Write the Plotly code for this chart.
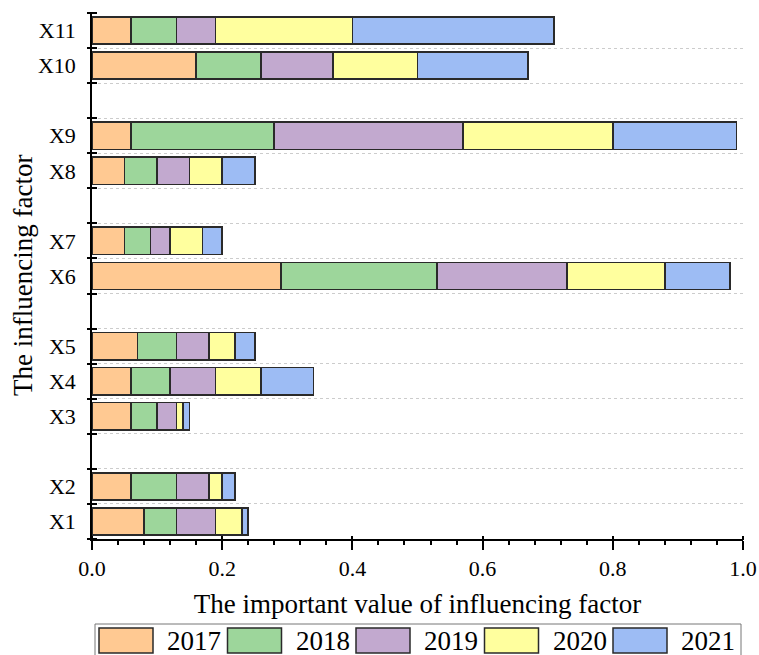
import plotly.graph_objects as go

factors = ["X1", "X2", "X3", "X4", "X5", "X6", "X7", "X8", "X9", "X10", "X11"]
years = ["2017", "2018", "2019", "2020", "2021"]
v2017 = [0.08, 0.06, 0.06, 0.06, 0.07, 0.29, 0.05, 0.05, 0.06, 0.16, 0.06]
v2018 = [0.05, 0.07, 0.04, 0.06, 0.06, 0.24, 0.04, 0.05, 0.22, 0.10, 0.07]
v2019 = [0.06, 0.05, 0.03, 0.07, 0.05, 0.20, 0.03, 0.05, 0.29, 0.11, 0.06]
v2020 = [0.04, 0.02, 0.01, 0.07, 0.04, 0.15, 0.05, 0.05, 0.23, 0.13, 0.21]
v2021 = [0.01, 0.02, 0.01, 0.08, 0.03, 0.10, 0.03, 0.05, 0.19, 0.17, 0.31]
# row order from bottom to top; "" marks an empty spacer row
row_layout = ["X1", "X2", "", "X3", "X4", "X5", "", "X6", "X7", "", "X8", "X9", "", "X10", "X11"]

series = [v2017, v2018, v2019, v2020, v2021]
colors = ["#FFC992", "#9DD69B", "#C2A9CF", "#FFFF9E", "#9DBCF4"]
FONT = "Liberation Serif"

ypos = [row_layout.index(f) for f in factors]
nrows = len(row_layout)
bounds = [i - 0.5 for i in range(nrows + 1)]

fig = go.Figure()
for name, vals, col in zip(years, series, colors):
    fig.add_trace(go.Bar(
        x=vals, y=ypos, orientation="h", name=name, width=0.78,
        marker=dict(color=col, line=dict(color="#2a2a2a", width=1.6)),
        showlegend=False,
    ))
# empty helper trace to activate overlay axes (tick marks only)
fig.add_trace(go.Scatter(x=[None], y=[None], xaxis="x2", yaxis="y2",
                         showlegend=False, hoverinfo="skip"))

# plot area geometry in pixels (for legend placement)
L, R, T, B = 92, 16, 13, 116
W, H = 759, 655
pw, ph = W - L - R, H - T - B
def px(xp):
    return (xp - L) / pw
def py(yp):
    return (H - B - yp) / ph

fig.update_layout(
    width=W, height=H, barmode="stack",
    margin=dict(l=L, r=R, t=T, b=B),
    plot_bgcolor="white", paper_bgcolor="white",
    font=dict(family=FONT, color="black"),
    xaxis=dict(
        range=[0, 1], tickmode="linear", tick0=0, dtick=0.2, tickformat=".1f",
        ticks="outside", ticklen=9, tickwidth=1.5, tickcolor="black",
        showline=True, linecolor="black", linewidth=1.5,
        showgrid=False, zeroline=False,
        tickfont=dict(family=FONT, size=22),
        minor=dict(tick0=0, dtick=0.04, ticks="outside", ticklen=4,
                   tickwidth=1.5, tickcolor="black"),
        title=dict(text="The important value of influencing factor",
                   font=dict(family=FONT, size=27), standoff=14),
        automargin=False,
    ),
    yaxis=dict(
        range=[-0.5, nrows - 0.5], tickmode="array", tickvals=ypos, ticktext=factors,
        ticks="", showline=True, linecolor="black", linewidth=1.5,
        showgrid=False, zeroline=False, ticklabelstandoff=10,
        tickfont=dict(family=FONT, size=22),
        minor=dict(tickmode="array", tickvals=bounds[1:-1], ticks="",
                   showgrid=True, gridcolor="#cccccc", griddash="dot", gridwidth=1),
        automargin=False,
    ),
    xaxis2=dict(
        overlaying="x", anchor="free", position=4 / ph, side="bottom",
        range=[0, 1], tickmode="linear", tick0=0, dtick=0.2,
        ticks="outside", ticklen=4, tickwidth=1.5, tickcolor="black",
        showticklabels=False, showline=False, showgrid=False, zeroline=False,
    ),
    yaxis2=dict(
        overlaying="y", anchor="free", position=5 / pw, side="left",
        range=[-0.5, nrows - 0.5], tickmode="array", tickvals=bounds,
        ticks="outside", ticklen=10, tickwidth=1.5, tickcolor="black",
        showticklabels=False, showline=False, showgrid=False, zeroline=False,
    ),
)

# y-axis title
annotations = [dict(xref="paper", yref="paper", x=px(23), y=py(276),
                    xanchor="center", yanchor="middle", textangle=-90,
                    text="The influencing factor", showarrow=False,
                    font=dict(family=FONT, size=27, color="black"))]

# custom legend with wide swatches
shapes = [dict(type="rect", xref="paper", yref="paper",
               x0=px(95), x1=px(741), y0=py(624), y1=py(664),
               line=dict(color="#777777", width=1), fillcolor="rgba(0,0,0,0)")]
for i, (name, col) in enumerate(zip(years, colors)):
    sx0 = 99 + 128.5 * i
    sx1 = sx0 + 54
    shapes.append(dict(type="rect", xref="paper", yref="paper",
                       x0=px(sx0), x1=px(sx1), y0=py(653), y1=py(628),
                       line=dict(color="#2a2a2a", width=1.5), fillcolor=col))
    annotations.append(dict(xref="paper", yref="paper", x=px(sx1 + 12), y=py(641),
                            xanchor="left", yanchor="middle", text=name, showarrow=False,
                            font=dict(family=FONT, size=27, color="black")))
fig.update_layout(shapes=shapes, annotations=annotations)

fig.write_html("out.html", config={"displayModeBar": False},
               post_script="document.body.style.margin='0';document.body.style.overflow='hidden';")
